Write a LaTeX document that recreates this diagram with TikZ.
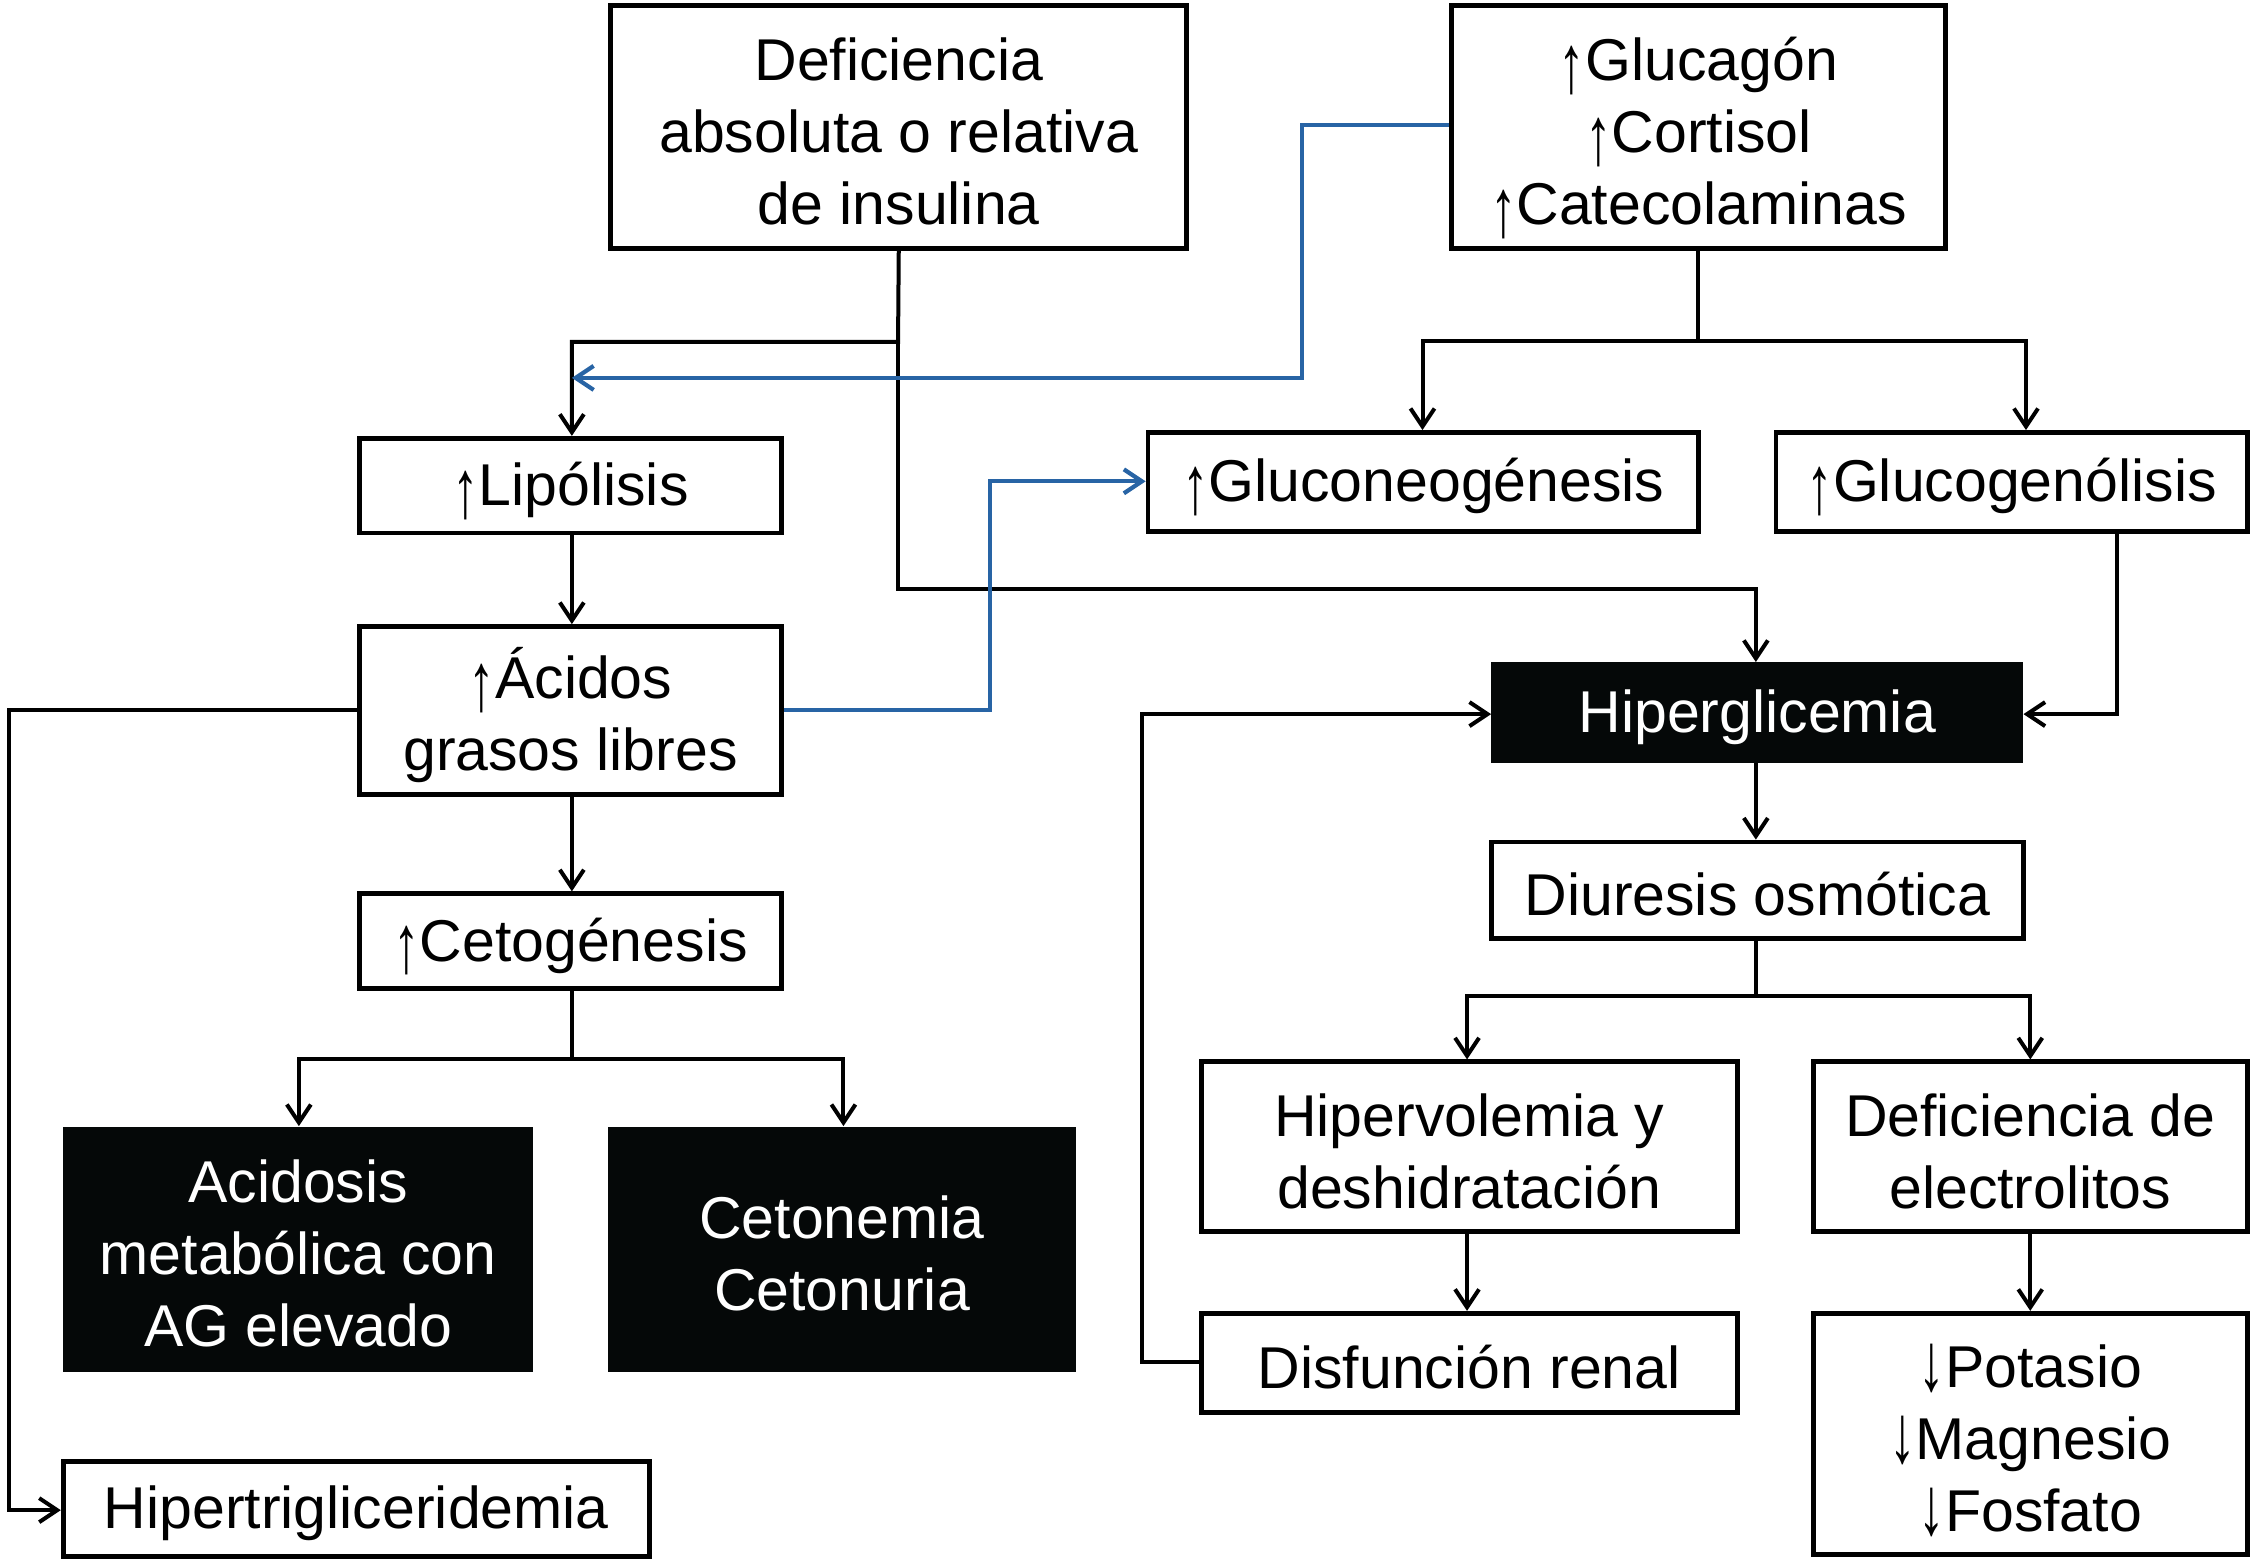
\documentclass[tikz,border=0pt]{standalone}
\usepackage{fontspec}
\usepackage{graphicx}
\setmainfont{Liberation Sans}
\usetikzlibrary{arrows.meta}
\definecolor{bluearr}{RGB}{40,100,165}
\definecolor{nearblack}{RGB}{5,8,8}
\def\U{0.7185pt}
\newcommand{\uarr}{\smash{\raisebox{-0.2em}{\scalebox{0.9}[1.4]{↑}}}}
\newcommand{\darr}{\smash{\raisebox{-0.05em}{\scalebox{0.9}[1.4]{↓}}}}
\newcommand{\bx}[7]{%
  \node[#6, minimum width={(#4-#2)*\U}, minimum height={(#5-#3)*\U}] (#1) at ({(#2+#4)/2},{(#3+#5)/2}) {};
  \node[#6 text] (#1-t) at ({(#2+#4)/2},{(#3+#5)/2+3}) {#7};}
\begin{document}
\begin{tikzpicture}[x=0.7185pt,y=-0.7185pt,
  font=\fontsize{29.5pt}{36pt}\selectfont,
  wbox/.style={draw=black, fill=white, line width=2.4pt, inner sep=0pt},
  bbox/.style={draw=none, fill=nearblack, inner sep=0pt},
  wbox text/.style={inner sep=0pt, align=center, text=black},
  bbox text/.style={inner sep=0pt, align=center, text=white},
  conn/.style={line width=2pt, draw=black},
  arr/.style={conn, -{Straight Barb[length=9pt,width=12pt,line width=2pt]}},
  barr/.style={line width=2.1pt, draw=bluearr, -{Straight Barb[length=9pt,width=12pt,line width=2.1pt]}}]
\useasboundingbox (0,0) rectangle (1568,1088);
% boxes
\bx{def}{425}{4}{826}{173}{wbox}{Deficiencia\\absoluta o relativa\\de insulina}
\bx{hor}{1010}{4}{1354}{173}{wbox}{\uarr Glucagón\\\uarr Cortisol\\\uarr Catecolaminas}
\bx{lip}{250}{305}{544}{371}{wbox}{\uarr Lipólisis}
\bx{gng}{799}{301}{1182}{370}{wbox}{\uarr Gluconeogénesis}
\bx{ggl}{1236}{301}{1564}{370}{wbox}{\uarr Glucogenólisis}
\bx{afl}{250}{436}{544}{553}{wbox}{\uarr Ácidos\\grasos libres}
\bx{hip}{1038}{461}{1408}{531}{bbox}{Hiperglicemia}
\bx{ceto}{250}{622}{544}{688}{wbox}{\uarr Cetogénesis}
\bx{diu}{1038}{586}{1408}{653}{wbox}{Diuresis osmótica}
\bx{acid}{44}{784}{371}{955}{bbox}{Acidosis\\metabólica con\\AG elevado}
\bx{cetn}{423}{784}{749}{955}{bbox}{Cetonemia\\Cetonuria}
\bx{hpv}{836}{739}{1209}{857}{wbox}{Hipervolemia y\\deshidratación}
\bx{dele}{1262}{739}{1564}{857}{wbox}{Deficiencia de\\electrolitos}
\bx{dren}{836}{914}{1209}{983}{wbox}{Disfunción renal}
\bx{pot}{1262}{914}{1564}{1082}{wbox}{\darr Potasio\\\darr Magnesio\\\darr Fosfato}
\bx{htg}{44}{1017}{452}{1083}{wbox}{Hipertrigliceridemia}
% coordinates
\coordinate (bl) at (398,263);
% connectors
\draw[arr] (def.south) -- (625,238) -- (398,238) -- (lip.north -| 398,0);
\draw[arr] (625,238) -- (625,410) -- (1222,410) -- (hip.north -| 1222,0);
\draw[barr] (hor.west |- 0,87) -- (906,87) -- (906,263) -- (bl);
\draw[arr] (hor.south) -- (1182,237) -- (990,237) -- (gng.north -| 990,0);
\draw[arr] (1182,237) -- (1410,237) -- (ggl.north -| 1410,0);
\draw[arr] (ggl.south -| 1473,0) -- (1473,497) -- (hip.east |- 0,497);
\draw[arr] (lip.south -| 398,0) -- (afl.north -| 398,0);
\draw[barr] (afl.east |- 0,494) -- (689,494) -- (689,335) -- (gng.west |- 0,335);
\draw[arr] (afl.west |- 0,494) -- (6,494) -- (6,1051) -- (htg.west |- 0,1051);
\draw[arr] (afl.south -| 398,0) -- (ceto.north -| 398,0);
\draw[arr] (ceto.south -| 398,0) -- (398,737) -- (208,737) -- (acid.north -| 208,0);
\draw[arr] (398,737) -- (587,737) -- (cetn.north -| 587,0);
\draw[arr] (hip.south -| 1222,0) -- (diu.north -| 1222,0);
\draw[arr] (diu.south -| 1222,0) -- (1222,693) -- (1021,693) -- (hpv.north -| 1021,0);
\draw[arr] (1222,693) -- (1413,693) -- (dele.north -| 1413,0);
\draw[arr] (hpv.south -| 1021,0) -- (dren.north -| 1021,0);
\draw[arr] (dele.south -| 1413,0) -- (pot.north -| 1413,0);
\draw[arr] (dren.west |- 0,948) -- (795,948) -- (795,497) -- (hip.west |- 0,497);
\end{tikzpicture}
\end{document}
